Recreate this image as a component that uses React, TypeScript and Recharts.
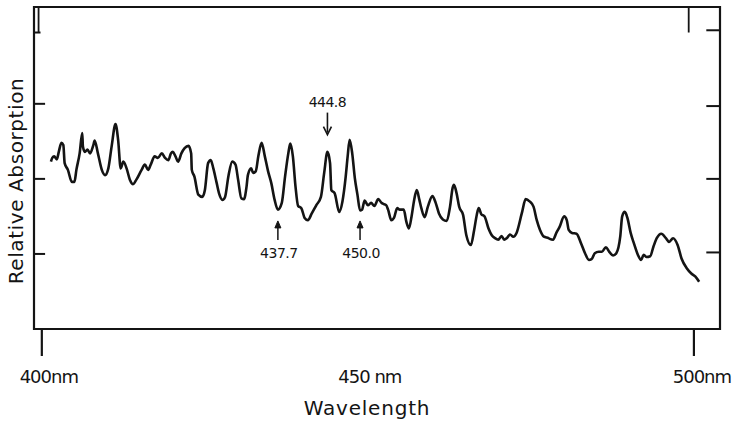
import React from 'react';
import { LineChart, Line, XAxis, YAxis, ReferenceDot, ReferenceLine, ReferenceArea } from 'recharts';

// Wavelength (nm) and relative absorption
const WAVELENGTH_NM = [
  401.4, 401.6, 401.9, 402.3, 402.6, 403.0, 403.3, 403.5, 404.0, 404.6, 405.0, 405.3, 405.8, 406.2, 406.3, 406.6,
  407.0, 407.4, 407.9, 408.1, 408.6, 409.2, 409.7, 410.2, 410.7, 411.3, 411.7, 412.1, 412.5, 413.0, 413.5, 414.0,
  414.5, 415.3, 415.8, 416.3, 416.7, 417.3, 417.8, 418.4, 418.9, 419.4, 419.8, 420.1, 420.5, 420.9, 421.4, 421.9,
  422.5, 422.9, 423.0, 423.4, 424.0, 424.6, 425.0, 425.5, 425.9, 426.3, 426.8, 427.2, 427.7, 428.1, 428.6, 429.2,
  429.7, 430.1, 430.6, 431.0, 431.4, 431.6, 432.1, 432.4, 432.8, 433.2, 433.7, 434.2, 434.7, 435.2, 435.7, 436.2,
  436.8, 437.3, 437.8, 438.1, 438.5, 438.9, 439.3, 439.8, 440.3, 440.8, 441.4, 442.1, 442.8, 443.3, 443.8, 444.2,
  444.4, 444.9, 445.6, 446.1, 446.6, 446.9, 447.2, 447.6, 448.0, 448.4, 448.8, 449.1, 449.5, 450.0, 450.5, 451.0,
  451.6, 452.1, 452.3, 452.8, 453.1, 453.6, 454.0, 454.5, 454.9, 455.5, 455.9, 456.3, 456.7, 457.1, 457.5, 457.9,
  458.2, 458.7, 459.2, 459.9, 460.4, 460.9, 461.5, 462.1, 462.6, 463.0, 463.2, 463.6, 464.0, 464.6, 465.1, 465.8,
  466.3, 466.7, 467.0, 467.4, 467.9, 468.5, 469.0, 469.5, 470.0, 470.5, 470.9, 471.3, 471.8, 472.3, 472.8, 473.6,
  474.2, 474.8, 475.4, 475.9, 476.4, 477.0, 477.7, 477.9, 478.4, 478.9, 479.4, 480.1, 480.5, 480.8, 481.3, 482.0,
  482.7, 483.3, 483.9, 484.3, 484.8, 485.4, 485.9, 486.5, 487.0, 487.6, 488.1, 488.7, 489.0, 489.4, 489.8, 490.3,
  490.8, 491.4, 491.9, 492.3, 492.7, 493.3, 493.8, 494.3, 495.0, 495.7, 496.2, 496.8, 497.5, 498.1, 498.9, 499.6,
  500.2, 500.8,
];

const ABSORPTION = [
  2.23, 2.28, 2.30, 2.26, 2.36, 2.48, 2.45, 2.21, 2.12, 1.96, 1.96, 2.12, 2.34, 2.61, 2.43, 2.36,
  2.39, 2.34, 2.45, 2.51, 2.34, 2.12, 2.05, 2.14, 2.43, 2.73, 2.52, 2.14, 2.23, 2.14, 1.99, 1.93,
  1.99, 2.12, 2.19, 2.12, 2.19, 2.30, 2.28, 2.34, 2.28, 2.25, 2.34, 2.36, 2.30, 2.23, 2.34, 2.41,
  2.44, 2.34, 2.12, 2.03, 1.79, 1.76, 1.85, 2.21, 2.25, 2.14, 1.95, 1.80, 1.72, 1.76, 2.03, 2.23,
  2.19, 1.99, 1.74, 1.73, 1.90, 2.05, 2.14, 2.08, 2.10, 2.30, 2.48, 2.30, 2.10, 1.94, 1.72, 1.59,
  1.68, 2.03, 2.34, 2.47, 2.30, 1.90, 1.64, 1.61, 1.48, 1.45, 1.54, 1.65, 1.76, 2.08, 2.36, 2.21,
  1.85, 1.81, 1.56, 1.70, 2.03, 2.30, 2.52, 2.34, 2.01, 1.79, 1.58, 1.59, 1.71, 1.65, 1.68, 1.64,
  1.73, 1.68, 1.67, 1.65, 1.59, 1.45, 1.48, 1.61, 1.59, 1.59, 1.43, 1.34, 1.50, 1.72, 1.85, 1.72,
  1.61, 1.49, 1.63, 1.77, 1.68, 1.54, 1.46, 1.44, 1.63, 1.88, 1.92, 1.81, 1.63, 1.52, 1.25, 1.12,
  1.32, 1.52, 1.61, 1.53, 1.50, 1.34, 1.25, 1.21, 1.19, 1.24, 1.19, 1.21, 1.26, 1.23, 1.28, 1.54,
  1.73, 1.70, 1.63, 1.45, 1.32, 1.23, 1.21, 1.20, 1.19, 1.28, 1.36, 1.50, 1.45, 1.32, 1.28, 1.27,
  1.14, 1.01, 0.92, 0.93, 1.01, 1.03, 1.03, 1.09, 1.03, 0.98, 1.01, 1.23, 1.50, 1.56, 1.48, 1.28,
  1.14, 0.99, 0.92, 0.99, 0.96, 0.97, 1.10, 1.21, 1.27, 1.21, 1.16, 1.21, 1.12, 0.94, 0.81, 0.74,
  0.70, 0.63,
];

const X_TICKS = [400, 450, 500];
const X_TICK_LABELS = ['400nm', '450 nm', '500nm'];
const X_TICKS_WITH_MARK = [400, 500];
// Inward frame ticks on the absorption scale
const Y_TICKS_LEFT = [1, 2, 3, 3.95];
const Y_TICKS_RIGHT = [1.02, 2.0, 2.97, 3.98];

// Annotated lines (label text, arrow tip position on the wavelength / absorption axes)
const ANNOT_LABELS = ['444.8', '437.7', '450.0'];
const ANNOT_NM = [443.8, 436.2, 448.8];
const ANNOT_VALUE = [2.59, 1.44, 1.44];
const ANNOT_DIR = ['down', 'up', 'up'];

// Small corner marks at the top of the frame
const CORNER_MARK_NM = [399.5, 499.2];

const X_DOMAIN = [398.8, 504];
const Y_DOMAIN = [0, 4.29];

const INK = '#141414';
const FONT = '"DejaVu Sans", sans-serif';

const data = WAVELENGTH_NM.map((nm, i) => ({ nm, a: ABSORPTION[i] }));

const X_TICK_DX = [7, 2, 8];
// tick lengths expressed along the wavelength scale
const LEFT_TICK_LEN = [1.7, 1.7, 1.7, 1.0];
const RIGHT_TICK_LEN = 2.1;

const BottomTick = (props: any) => {
  const { x, y, payload } = props;
  const v = payload.value;
  const i = X_TICKS.indexOf(v);
  const mark = X_TICKS_WITH_MARK.includes(v);
  return (
    <g>
      {mark && <line x1={x} x2={x} y1={y} y2={y + 27} stroke={INK} strokeWidth={2.2} />}
      <text
        x={x + X_TICK_DX[i]}
        y={y + 54}
        textAnchor="middle"
        fontFamily={FONT}
        fontSize={18}
        letterSpacing={-1}
        fill={INK}
      >
        {X_TICK_LABELS[i]}
      </text>
    </g>
  );
};

const Arrow = (props: any) => {
  const { cx, cy, label, dir } = props;
  if (cx == null || cy == null) return null;
  if (dir === 'down') {
    return (
      <g>
        <line x1={cx} x2={cx} y1={cy - 22} y2={cy - 2} stroke={INK} strokeWidth={1.6} />
        <path d={`M${cx - 4},${cy - 8} L${cx},${cy} L${cx + 4},${cy - 8}`} fill="none" stroke={INK} strokeWidth={1.6} />
        <text x={cx} y={cy - 28} textAnchor="middle" fontFamily={FONT} fontSize={14} letterSpacing={-0.5} fill={INK}>
          {label}
        </text>
      </g>
    );
  }
  return (
    <g>
      <line x1={cx} x2={cx} y1={cy + 2} y2={cy + 19} stroke={INK} strokeWidth={1.5} />
      <path d={`M${cx - 3},${cy + 7} L${cx},${cy} L${cx + 3},${cy + 7} Z`} fill={INK} stroke={INK} strokeWidth={1} />
      <text x={cx + 1} y={cy + 37} textAnchor="middle" fontFamily={FONT} fontSize={14} letterSpacing={-0.5} fill={INK}>
        {label}
      </text>
    </g>
  );
};

export default function App() {
  return (
    <div style={{ position: 'absolute', left: 0, top: 0, width: 739, height: 422, background: '#fff' }}>
      <LineChart width={739} height={422} data={data} margin={{ top: 7, right: 19, bottom: 0, left: 34 }}>
        <XAxis
          xAxisId="bottom"
          dataKey="nm"
          type="number"
          domain={X_DOMAIN}
          allowDataOverflow
          ticks={X_TICKS}
          height={93}
          tickSize={0}
          tickMargin={0}
          tickLine={false}
          axisLine={false}
          tick={<BottomTick />}
          interval={0}
        />
        <YAxis yAxisId="left" type="number" domain={Y_DOMAIN} allowDataOverflow hide width={0} />
        <ReferenceArea
          xAxisId="bottom"
          yAxisId="left"
          x1={X_DOMAIN[0]}
          x2={X_DOMAIN[1]}
          y1={Y_DOMAIN[0]}
          y2={Y_DOMAIN[1]}
          fill="none"
          fillOpacity={0}
          stroke={INK}
          strokeWidth={2.2}
          strokeOpacity={1}
          ifOverflow="visible"
        />
        {Y_TICKS_LEFT.map((v, i) => (
          <ReferenceLine
            key={`l${v}`}
            xAxisId="bottom"
            yAxisId="left"
            segment={[{ x: X_DOMAIN[0], y: v }, { x: X_DOMAIN[0] + LEFT_TICK_LEN[i], y: v }]}
            stroke={INK}
            strokeWidth={2}
            ifOverflow="visible"
          />
        ))}
        {Y_TICKS_RIGHT.map((v) => (
          <ReferenceLine
            key={`r${v}`}
            xAxisId="bottom"
            yAxisId="left"
            segment={[{ x: X_DOMAIN[1] - RIGHT_TICK_LEN, y: v }, { x: X_DOMAIN[1], y: v }]}
            stroke={INK}
            strokeWidth={2}
            ifOverflow="visible"
          />
        ))}
        {CORNER_MARK_NM.map((nm) => (
          <ReferenceLine
            key={nm}
            xAxisId="bottom"
            yAxisId="left"
            segment={[{ x: nm, y: Y_DOMAIN[1] }, { x: nm, y: 3.95 }]}
            stroke={INK}
            strokeWidth={1.8}
            ifOverflow="visible"
          />
        ))}
        <Line
          xAxisId="bottom"
          yAxisId="left"
          dataKey="a"
          type="monotone"
          stroke={INK}
          strokeWidth={2.6}
          dot={false}
          activeDot={false}
          isAnimationActive={false}
        />
        {ANNOT_LABELS.map((label, i) => (
          <ReferenceDot
            key={label}
            xAxisId="bottom"
            yAxisId="left"
            x={ANNOT_NM[i]}
            y={ANNOT_VALUE[i]}
            r={0}
            ifOverflow="visible"
            shape={(p: any) => <Arrow {...p} label={label} dir={ANNOT_DIR[i]} />}
          />
        ))}
        <text x={367} y={415} textAnchor="middle" fontFamily={FONT} fontSize={20} letterSpacing={0.8} fill={INK}>
          Wavelength
        </text>
        <text
          x={23}
          y={181}
          transform="rotate(-90, 23, 181)"
          textAnchor="middle"
          fontFamily={FONT}
          fontSize={20}
          letterSpacing={0.6}
          fill={INK}
        >
          Relative Absorption
        </text>
      </LineChart>
    </div>
  );
}
